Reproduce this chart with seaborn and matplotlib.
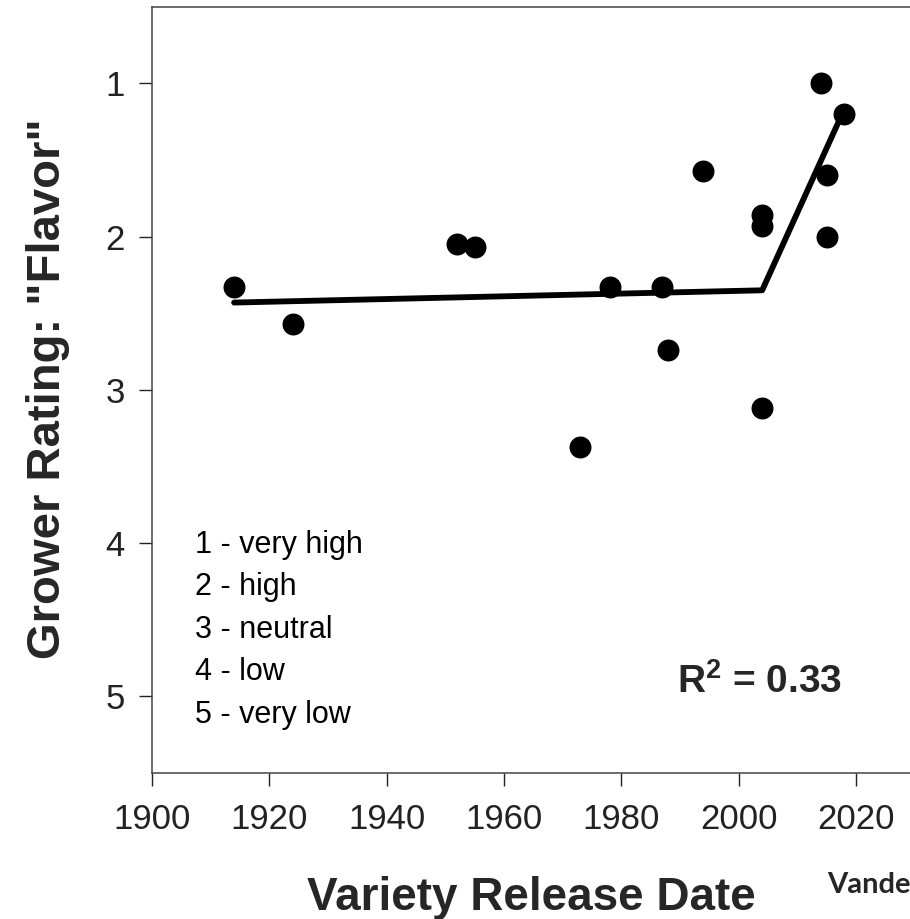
import numpy as np
import pandas as pd
import seaborn as sns
from matplotlib import pyplot as plt

# variety release year vs. grower flavor rating (1 = very high, 5 = very low)
release_year = [1914, 1924, 1952, 1955, 1973, 1978, 1987, 1988, 1994,
                2004, 2004, 2004, 2014, 2015, 2015, 2018]
flavor_rating = [2.33, 2.57, 2.05, 2.07, 3.37, 2.33, 2.33, 2.74, 1.57,
                 1.86, 1.93, 3.12, 1.00, 1.60, 2.00, 1.20]

# piecewise fit
fit_year = [1914, 2004, 2017.5]
fit_rating = [2.43, 2.35, 1.21]

scale_labels = ['1 - very high', '2 - high', '3 - neutral', '4 - low', '5 - very low']
y_ticks = [1, 2, 3, 4, 5]
x_ticks = [1900, 1920, 1940, 1960, 1980, 2000, 2020]

sns.set_style('ticks')
plt.rcParams['font.family'] = ['Liberation Sans', 'DejaVu Sans']
plt.rcParams['mathtext.fontset'] = 'custom'
plt.rcParams['mathtext.rm'] = 'Liberation Sans'
plt.rcParams['mathtext.bf'] = 'Liberation Sans:bold'

df = pd.DataFrame({'year': release_year, 'rating': flavor_rating})
df_fit = pd.DataFrame({'year': fit_year, 'rating': fit_rating})

fig = plt.figure(figsize=(9.10, 9.19), dpi=100)
ax = fig.add_axes([0.167, 0.159, 0.833, 0.8335])

sns.lineplot(ax=ax, data=df_fit, x='year', y='rating', sort=False,
             color='black', linewidth=4.2, zorder=2)
sns.scatterplot(ax=ax, data=df, x='year', y='rating', color='black',
                s=250, edgecolor='black', linewidth=0, zorder=3)

ax.set_xlim(1900, 2029.2)
ax.set_ylim(5.5, 0.5)
ax.set_xticks(x_ticks)
ax.set_yticks(y_ticks)
ax.tick_params(axis='both', direction='out', length=9.5, width=1,
               labelsize=25, colors='#222222', pad=10)
ax.tick_params(axis='x', pad=12)
for side in ['left', 'top', 'bottom']:
    ax.spines[side].set_linewidth(1.1)
    ax.spines[side].set_color('#444444')
ax.spines['right'].set_visible(False)

ax.set_xlabel('Variety Release Date', fontsize=33, fontweight='bold')
ax.xaxis.label.set_va('baseline')
ax.xaxis.set_label_coords(0.501, -0.179)
ax.set_ylabel('Grower Rating: "Flavor"', fontsize=34, fontweight='bold')
ax.yaxis.label.set_va('baseline')
ax.yaxis.set_label_coords(-0.121, 0.501)

for i, lab in enumerate(scale_labels):
    ax.text(0.057, 0.2872 - i * 0.0555, lab, transform=ax.transAxes,
            fontsize=22, va='baseline', ha='left', color='black')

ax.text(0.692, 0.105, r'$\mathbf{R^2}$ = 0.33', transform=ax.transAxes,
        fontsize=28, fontweight='bold', va='baseline', ha='left')

fig.text(0.909, 1 - 893 / 919, 'Vanden Heuvel', fontsize=21, fontweight='bold',
         family=['Lato', 'DejaVu Sans'], va='baseline', ha='left')

fig.savefig('out.png', dpi=100)
